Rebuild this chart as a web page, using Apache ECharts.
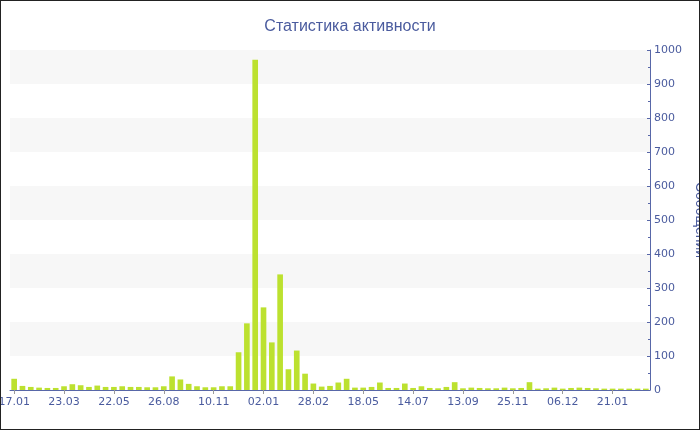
<!DOCTYPE html>
<html>
<head>
<meta charset="utf-8">
<title>Статистика активности</title>
<script src="https://cdn.jsdelivr.net/npm/echarts@6/dist/echarts.min.js"></script>
<style>
    body {
        margin: 0;
        background: #fff;
    }

    #myChart {
        width: 698px;
        height: 428px;
        border: 1px solid #222;
    }
</style>
</head>
<body>
<div id="myChart"></div>
<script>
    // даты (подписи по оси X, видна каждая шестая)
    const dates = [
        '17.01', '28.01', '07.02', '18.02', '01.03', '12.03',
        '23.03', '02.04', '12.04', '22.04', '02.05', '12.05',
        '22.05', '07.06', '23.06', '09.07', '25.07', '10.08',
        '26.08', '08.09', '21.09', '03.10', '15.10', '28.10',
        '10.11', '19.11', '28.11', '07.12', '16.12', '24.12',
        '02.01', '12.01', '21.01', '30.01', '09.02', '19.02',
        '28.02', '13.03', '26.03', '08.04', '21.04', '05.05',
        '18.05', '27.05', '06.06', '15.06', '25.06', '04.07',
        '14.07', '24.07', '03.08', '13.08', '23.08', '02.09',
        '13.09', '25.09', '07.10', '19.10', '01.11', '13.11',
        '25.11', '27.11', '29.11', '01.12', '02.12', '04.12',
        '06.12', '14.12', '22.12', '29.12', '06.01', '14.01',
        '21.01', '29.01', '06.02', '14.02', '22.02'
    ]

    // количество сообщений
    const messages = [
        33, 12, 9, 7, 6, 6,
        11, 17, 14, 9, 13, 9,
        9, 11, 9, 9, 8, 8,
        11, 40, 31, 18, 11, 8,
        8, 11, 11, 111, 196, 971,
        243, 140, 340, 61, 116, 48,
        19, 10, 12, 22, 33, 7,
        7, 9, 22, 6, 6, 19,
        6, 11, 6, 5, 9, 23,
        5, 7, 6, 5, 5, 7,
        5, 6, 23, 4, 5, 7,
        4, 6, 7, 6, 5, 4,
        4, 4, 4, 4, 4
    ]

    const yTicks = {min: 0, max: 1000, interval: 100}

    const blue = '#4a5b9e'
    const axisBlue = '#5867a8'

    const option = {
        title: {
            text: 'Статистика активности',
            left: 'center',
            top: 13,
            textStyle: {
                color: blue,
                fontFamily: 'Liberation Sans',
                fontSize: 16,
                fontWeight: 'normal'
            }
        },
        grid: {
            left: 9, right: 49, top: 49, bottom: 39,
            containLabel: false,
            outerBoundsMode: 'none'
        },
        xAxis: {
            type: 'category',
            data: dates,
            axisLine: {show: true, lineStyle: {color: axisBlue}},
            axisTick: {show: true, alignWithLabel: true, interval: 5, length: 4, lineStyle: {color: '#999'}},
            axisLabel: {
                interval: 5,
                color: blue,
                fontFamily: 'DejaVu Sans',
                fontSize: 11,
                margin: 7,
                hideOverlap: false
            },
            splitLine: {show: false}
        },
        yAxis: {
            type: 'value',
            position: 'right',
            min: yTicks.min,
            max: yTicks.max,
            interval: yTicks.interval,
            name: 'Сообщений',
            nameLocation: 'middle',
            nameRotate: -90,
            nameGap: 34,
            nameTextStyle: {
                color: blue,
                fontFamily: 'Liberation Sans',
                fontSize: 14
            },
            axisLine: {show: true, lineStyle: {color: axisBlue}},
            axisTick: {show: true, inside: true, length: 3, lineStyle: {color: axisBlue}},
            minorTick: {show: true, splitNumber: 2, length: 2, lineStyle: {color: axisBlue}},
            axisLabel: {
                color: blue,
                fontFamily: 'DejaVu Sans',
                fontSize: 11,
                margin: 4,
                formatter: v => String(v)
            },
            splitLine: {show: false},
            splitArea: {
                show: true,
                areaStyle: {color: ['rgba(255,255,255,0)', '#f7f7f7']}
            }
        },
        series: [
            {
                name: 'Сообщений',
                type: 'bar',
                data: messages,
                barCategoryGap: '32%',
                itemStyle: {color: '#bce12f'},
                animation: false
            }
        ],
        animation: false
    }

    const myChart = echarts.init(document.getElementById('myChart'))
    myChart.setOption(option)
</script>
</body>
</html>
